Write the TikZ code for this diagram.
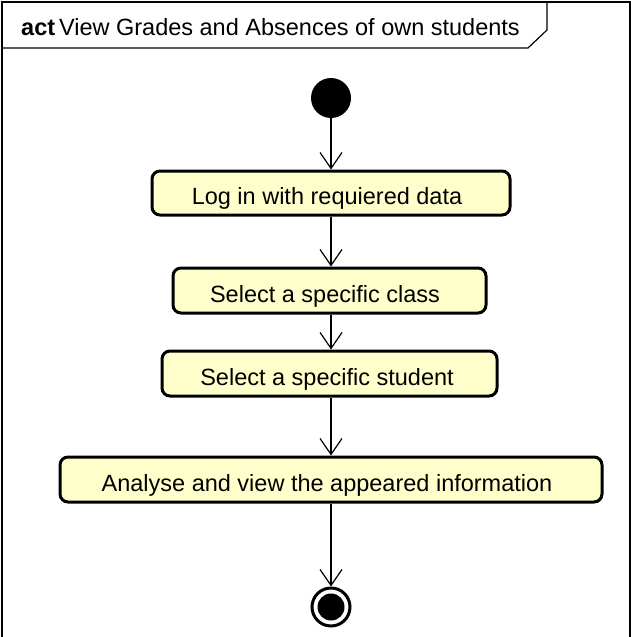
\documentclass[tikz,border=0pt]{standalone}
\usepackage{fontspec}
\setmainfont{Liberation Sans}
\usetikzlibrary{arrows.meta}
\begin{document}
\begin{tikzpicture}[x=1pt,y=-1pt,
  action/.style={draw=black,line width=3pt,rounded corners=8pt,fill=actfill,
    inner sep=0pt},
  label/.style={font=\fontsize{23.5}{28}\selectfont,inner sep=0pt,anchor=base},
  flow/.style={line width=1.2pt,-{Straight Barb[length=16pt,width=22pt,line width=1.2pt]}},
  every node/.style={text=black}]
  \definecolor{actfill}{HTML}{FFFFCC}
  \useasboundingbox (0,0) rectangle (631,637);
  % frame
  \draw[line width=1.5pt] (2,640) -- (2,2) -- (630,2) -- (630,640);
  \draw[line width=1.2pt] (2,48) -- (528,48) -- (547,30) -- (547,2);
  \node[anchor=base west,inner sep=0pt,font=\fontsize{23.5}{28}\selectfont] (title) at (21,35)
    {\textbf{act}\,View Grades and Absences of own students};
  % initial node
  \node[circle,fill=black,minimum size=40pt,inner sep=0pt] (start) at (331,98) {};
  % actions
  \node[action,minimum width=358pt,minimum height=44pt] (a1) at (331,193) {};
  \node[label] (t1) at (327,204) {Log in with requiered data};
  \node[action,minimum width=313pt,minimum height=45pt] (a2) at (329.5,290.5) {};
  \node[label] (t2) at (325,302) {Select a specific class};
  \node[action,minimum width=335pt,minimum height=45pt] (a3) at (329.5,373.5) {};
  \node[label] (t3) at (327,385) {Select a specific student};
  \node[action,minimum width=542pt,minimum height=45pt] (a4) at (331,479.5) {};
  \node[label] (t4) at (327,491) {Analyse and view the appeared information};
  % final node
  \node[circle,draw=black,line width=3pt,minimum size=38pt,inner sep=0pt] (end) at (331,607) {};
  \node[circle,fill=black,minimum size=27pt,inner sep=0pt] (endin) at (331,607) {};
  % flows
  \draw[flow] (start) -- (a1.north);
  \draw[flow] (a1.south) -- (a2.north -| a1.south);
  \draw[flow] (a2.south -| a1.south) -- (a3.north -| a1.south);
  \draw[flow] (a3.south -| a1.south) -- (a4.north);
  \draw[flow] (a4.south) -- (end.north);
\end{tikzpicture}
\end{document}
